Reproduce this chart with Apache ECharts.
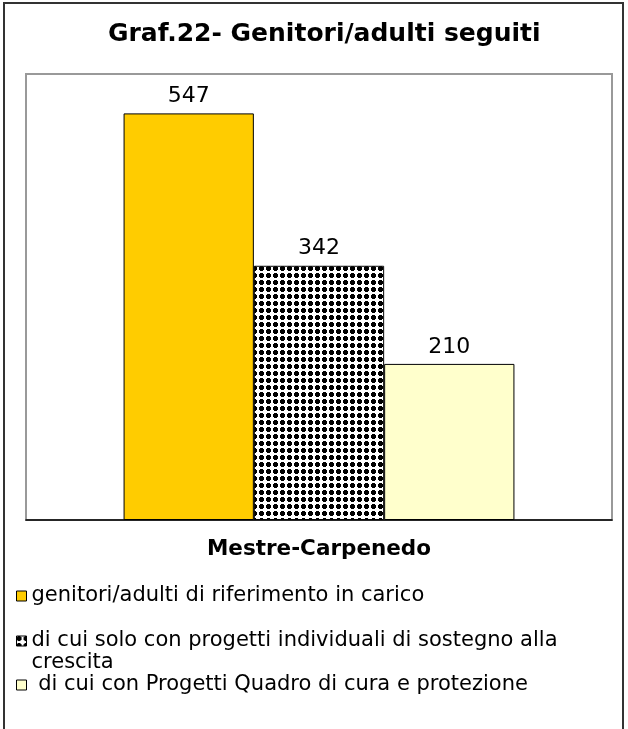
<!DOCTYPE html>
<html>
<head>
<meta charset="utf-8">
<style>
html,body{margin:0;padding:0;background:#fff;}
#container{width:628px;height:729px;}
</style>
</head>
<body>
<div id="container"></div>
<script src="https://cdn.jsdelivr.net/npm/echarts@6/dist/echarts.min.js"></script>
<script>
// dati del grafico
var categories = ['Mestre-Carpenedo'];
var seriesNames = [
  'genitori/adulti di riferimento in carico',
  'di cui solo con progetti individuali di sostegno alla crescita',
  ' di cui con Progetti Quadro di cura e protezione'
];
var seriesValues = [[547], [342], [210]];
var titleText = 'Graf.22- Genitori/adulti seguiti';

var FONT = 'DejaVu Sans';

// retino a puntini per la barra centrale
function makeDots() {
  var c = document.createElement('canvas');
  c.width = 7; c.height = 7;
  var g = c.getContext('2d');
  g.fillStyle = '#fff';
  g.fillRect(0, 0, 7, 7);
  g.fillStyle = '#000';
  g.fillRect(1, 0, 3, 1);
  g.fillRect(0, 1, 5, 3);
  g.fillRect(1, 4, 3, 1);
  return c;
}

var fills = ['#FFCC00', {image: makeDots(), repeat: 'repeat'}, '#FFFFCC'];

var series = [];
for (var i = 0; i < seriesNames.length; i++) {
  series.push({
    name: seriesNames[i],
    type: 'bar',
    data: seriesValues[i],
    barGap: '0%',
    barCategoryGap: '33.3%',
    itemStyle: {color: fills[i], borderColor: '#000', borderWidth: 1},
    label: {
      show: true, position: 'top', distance: 6,
      color: '#000', fontFamily: FONT, fontSize: 22
    },
    emphasis: {disabled: true},
    animation: false
  });
}

function legendAt(idx, top, fmt) {
  var l = {
    data: [seriesNames[idx]],
    orient: 'vertical',
    left: 16,
    top: top,
    padding: 0,
    icon: 'rect',
    itemWidth: 10,
    itemHeight: 10,
    itemStyle: {borderColor: '#000', borderWidth: 1},
    selectedMode: false,
    textStyle: {color: '#000', fontFamily: FONT, fontSize: 21, lineHeight: 22}
  };
  if (fmt) l.formatter = fmt;
  return l;
}

var chart = echarts.init(document.getElementById('container'));
chart.setOption({
  animation: false,
  title: {
    text: titleText,
    left: 103,
    top: 17,
    textStyle: {color: '#000', fontFamily: FONT, fontWeight: 'bold', fontSize: 25}
  },
  graphic: [{
    type: 'rect',
    shape: {x: 4, y: 3, width: 619, height: 760},
    style: {fill: 'none', stroke: '#333', lineWidth: 2},
    silent: true
  }],
  legend: [
    legendAt(0, 585),
    // riga vuota in testa: l'icona resta sulla prima riga del testo
    legendAt(1, 608, function (n) { return '\n' + n.replace(' alla crescita', ' alla\ncrescita'); }),
    legendAt(2, 674)
  ],
  grid: {
    left: 26, right: 16, top: 74, bottom: 209,
    show: true, borderColor: '#999', borderWidth: 2, backgroundColor: '#fff'
  },
  xAxis: {
    type: 'category',
    data: categories,
    axisLine: {lineStyle: {color: '#000', width: 1.5}},
    axisTick: {length: 7, lineStyle: {color: '#000'}},
    axisLabel: {color: '#000', fontFamily: FONT, fontWeight: 'bold', fontSize: 21.5, margin: 18}
  },
  yAxis: {
    type: 'value', min: 0, max: 600, show: false,
    splitLine: {show: false}
  },
  series: series
});
</script>
</body>
</html>
